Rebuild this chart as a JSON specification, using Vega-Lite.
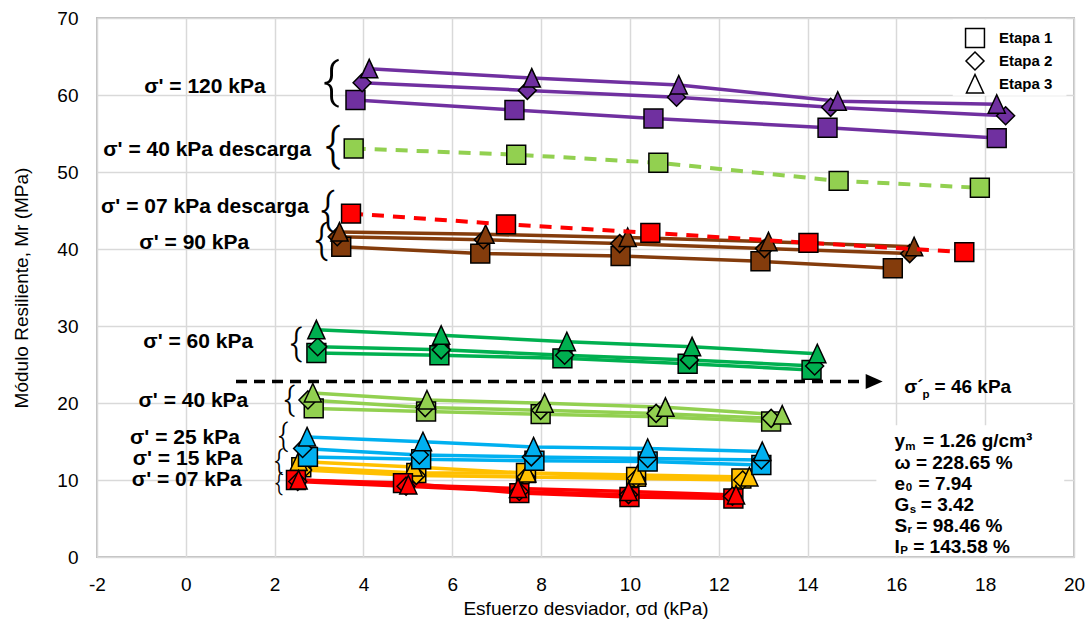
{
  "$schema": "https://vega.github.io/schema/vega-lite/v6.json",
  "width": 977,
  "height": 539,
  "autosize": {"type": "none"},
  "padding": {"left": 97, "top": 18, "right": 16, "bottom": 72},
  "background": "white",
  "config": {
    "view": {"stroke": "#BFBFBF", "strokeWidth": 2},
    "font": "Liberation Sans",
    "axis": {
      "gridColor": "#D9D9D9", "gridWidth": 1.5, "domain": false, "ticks": false,
      "labelFont": "Liberation Sans", "labelFontSize": 19, "labelColor": "#000000",
      "titleFont": "Liberation Sans", "titleFontSize": 19, "titleFontWeight": "normal", "titleColor": "#000000"
    }
  },
  "datasets": {
    "boxes": [
      {"x": 17.27, "x2": 19.83, "y": 59.9, "y2": 69.85},
      {"x": 15.55, "x2": 19.78, "y": 0.15, "y2": 17.1}
    ],
    "pts": [
      {"g": "120", "e": "Etapa 1", "x": 3.82, "y": 59.35}, {"g": "120", "e": "Etapa 1", "x": 7.40, "y": 58.05}, {"g": "120", "e": "Etapa 1", "x": 10.53, "y": 56.95}, {"g": "120", "e": "Etapa 1", "x": 14.45, "y": 55.75}, {"g": "120", "e": "Etapa 1", "x": 18.26, "y": 54.4},
      {"g": "120", "e": "Etapa 2", "x": 3.97, "y": 61.6}, {"g": "120", "e": "Etapa 2", "x": 7.69, "y": 60.6}, {"g": "120", "e": "Etapa 2", "x": 11.05, "y": 59.7}, {"g": "120", "e": "Etapa 2", "x": 14.52, "y": 58.4}, {"g": "120", "e": "Etapa 2", "x": 18.46, "y": 57.3},
      {"g": "120", "e": "Etapa 3", "x": 4.13, "y": 63.4}, {"g": "120", "e": "Etapa 3", "x": 7.79, "y": 62.2}, {"g": "120", "e": "Etapa 3", "x": 11.10, "y": 61.3}, {"g": "120", "e": "Etapa 3", "x": 14.68, "y": 59.2}, {"g": "120", "e": "Etapa 3", "x": 18.26, "y": 58.8},
      {"g": "90", "e": "Etapa 1", "x": 3.50, "y": 40.3}, {"g": "90", "e": "Etapa 1", "x": 6.63, "y": 39.4}, {"g": "90", "e": "Etapa 1", "x": 9.79, "y": 39.1}, {"g": "90", "e": "Etapa 1", "x": 12.94, "y": 38.4}, {"g": "90", "e": "Etapa 1", "x": 15.92, "y": 37.5},
      {"g": "90", "e": "Etapa 2", "x": 3.41, "y": 41.6}, {"g": "90", "e": "Etapa 2", "x": 6.70, "y": 41.2}, {"g": "90", "e": "Etapa 2", "x": 9.77, "y": 40.7}, {"g": "90", "e": "Etapa 2", "x": 13.03, "y": 40.05}, {"g": "90", "e": "Etapa 2", "x": 16.30, "y": 39.4},
      {"g": "90", "e": "Etapa 3", "x": 3.46, "y": 42.2}, {"g": "90", "e": "Etapa 3", "x": 6.75, "y": 41.9}, {"g": "90", "e": "Etapa 3", "x": 9.95, "y": 41.5}, {"g": "90", "e": "Etapa 3", "x": 13.12, "y": 40.95}, {"g": "90", "e": "Etapa 3", "x": 16.40, "y": 40.3},
      {"g": "60", "e": "Etapa 1", "x": 2.94, "y": 26.5}, {"g": "60", "e": "Etapa 1", "x": 5.71, "y": 26.2}, {"g": "60", "e": "Etapa 1", "x": 8.48, "y": 25.8}, {"g": "60", "e": "Etapa 1", "x": 11.30, "y": 25.1}, {"g": "60", "e": "Etapa 1", "x": 14.09, "y": 24.3},
      {"g": "60", "e": "Etapa 2", "x": 2.97, "y": 27.3}, {"g": "60", "e": "Etapa 2", "x": 5.75, "y": 26.9}, {"g": "60", "e": "Etapa 2", "x": 8.53, "y": 26.2}, {"g": "60", "e": "Etapa 2", "x": 11.34, "y": 25.6}, {"g": "60", "e": "Etapa 2", "x": 14.16, "y": 24.8},
      {"g": "60", "e": "Etapa 3", "x": 2.94, "y": 29.5}, {"g": "60", "e": "Etapa 3", "x": 5.75, "y": 28.8}, {"g": "60", "e": "Etapa 3", "x": 8.58, "y": 27.96}, {"g": "60", "e": "Etapa 3", "x": 11.40, "y": 27.3}, {"g": "60", "e": "Etapa 3", "x": 14.22, "y": 26.4},
      {"g": "40", "e": "Etapa 1", "x": 2.88, "y": 19.3}, {"g": "40", "e": "Etapa 1", "x": 5.41, "y": 18.9}, {"g": "40", "e": "Etapa 1", "x": 7.99, "y": 18.55}, {"g": "40", "e": "Etapa 1", "x": 10.63, "y": 18.2}, {"g": "40", "e": "Etapa 1", "x": 13.18, "y": 17.6},
      {"g": "40", "e": "Etapa 2", "x": 2.75, "y": 20.4}, {"g": "40", "e": "Etapa 2", "x": 5.39, "y": 19.4}, {"g": "40", "e": "Etapa 2", "x": 7.99, "y": 19.05}, {"g": "40", "e": "Etapa 2", "x": 10.59, "y": 18.65}, {"g": "40", "e": "Etapa 2", "x": 13.18, "y": 18.0},
      {"g": "40", "e": "Etapa 3", "x": 2.86, "y": 21.3}, {"g": "40", "e": "Etapa 3", "x": 5.43, "y": 20.4}, {"g": "40", "e": "Etapa 3", "x": 8.08, "y": 19.96}, {"g": "40", "e": "Etapa 3", "x": 10.80, "y": 19.44}, {"g": "40", "e": "Etapa 3", "x": 13.43, "y": 18.44},
      {"g": "15", "e": "Etapa 1", "x": 2.60, "y": 11.65}, {"g": "15", "e": "Etapa 1", "x": 5.19, "y": 10.9}, {"g": "15", "e": "Etapa 1", "x": 7.66, "y": 10.9}, {"g": "15", "e": "Etapa 1", "x": 10.14, "y": 10.4}, {"g": "15", "e": "Etapa 1", "x": 12.51, "y": 10.2},
      {"g": "15", "e": "Etapa 2", "x": 2.63, "y": 11.3}, {"g": "15", "e": "Etapa 2", "x": 5.19, "y": 10.6}, {"g": "15", "e": "Etapa 2", "x": 7.66, "y": 10.4}, {"g": "15", "e": "Etapa 2", "x": 10.14, "y": 10.2}, {"g": "15", "e": "Etapa 2", "x": 12.54, "y": 10.0},
      {"g": "15", "e": "Etapa 3", "x": 2.54, "y": 12.4}, {"g": "15", "e": "Etapa 3", "x": 5.13, "y": 11.7}, {"g": "15", "e": "Etapa 3", "x": 7.69, "y": 10.9}, {"g": "15", "e": "Etapa 3", "x": 10.17, "y": 10.65}, {"g": "15", "e": "Etapa 3", "x": 12.69, "y": 10.4},
      {"g": "25", "e": "Etapa 1", "x": 2.75, "y": 13.0}, {"g": "25", "e": "Etapa 1", "x": 5.30, "y": 12.7}, {"g": "25", "e": "Etapa 1", "x": 7.85, "y": 12.5}, {"g": "25", "e": "Etapa 1", "x": 10.40, "y": 12.4}, {"g": "25", "e": "Etapa 1", "x": 12.96, "y": 11.95},
      {"g": "25", "e": "Etapa 2", "x": 2.63, "y": 14.1}, {"g": "25", "e": "Etapa 2", "x": 5.26, "y": 13.25}, {"g": "25", "e": "Etapa 2", "x": 7.78, "y": 13.0}, {"g": "25", "e": "Etapa 2", "x": 10.40, "y": 12.8}, {"g": "25", "e": "Etapa 2", "x": 12.96, "y": 12.6},
      {"g": "25", "e": "Etapa 3", "x": 2.73, "y": 15.6}, {"g": "25", "e": "Etapa 3", "x": 5.34, "y": 14.97}, {"g": "25", "e": "Etapa 3", "x": 7.83, "y": 14.3}, {"g": "25", "e": "Etapa 3", "x": 10.40, "y": 14.1}, {"g": "25", "e": "Etapa 3", "x": 12.98, "y": 13.7},
      {"g": "07", "e": "Etapa 1", "x": 2.48, "y": 10.0}, {"g": "07", "e": "Etapa 1", "x": 4.89, "y": 9.6}, {"g": "07", "e": "Etapa 1", "x": 7.51, "y": 8.3}, {"g": "07", "e": "Etapa 1", "x": 9.99, "y": 7.8}, {"g": "07", "e": "Etapa 1", "x": 12.33, "y": 7.6},
      {"g": "07", "e": "Etapa 2", "x": 2.52, "y": 9.8}, {"g": "07", "e": "Etapa 2", "x": 4.96, "y": 9.2}, {"g": "07", "e": "Etapa 2", "x": 7.51, "y": 8.5}, {"g": "07", "e": "Etapa 2", "x": 9.97, "y": 8.1}, {"g": "07", "e": "Etapa 2", "x": 12.31, "y": 7.9},
      {"g": "07", "e": "Etapa 3", "x": 2.54, "y": 10.0}, {"g": "07", "e": "Etapa 3", "x": 5.01, "y": 9.35}, {"g": "07", "e": "Etapa 3", "x": 7.48, "y": 8.9}, {"g": "07", "e": "Etapa 3", "x": 9.97, "y": 8.5}, {"g": "07", "e": "Etapa 3", "x": 12.39, "y": 8.05}
    ],
    "desc": [
      {"g": "40d", "e": "Etapa 1", "x": 3.78, "y": 53.05}, {"g": "40d", "e": "Etapa 1", "x": 7.44, "y": 52.25}, {"g": "40d", "e": "Etapa 1", "x": 10.64, "y": 51.2}, {"g": "40d", "e": "Etapa 1", "x": 14.70, "y": 48.85}, {"g": "40d", "e": "Etapa 1", "x": 17.88, "y": 47.95},
      {"g": "07d", "e": "Etapa 1", "x": 3.72, "y": 44.6}, {"g": "07d", "e": "Etapa 1", "x": 7.21, "y": 43.2}, {"g": "07d", "e": "Etapa 1", "x": 10.46, "y": 42.1}, {"g": "07d", "e": "Etapa 1", "x": 14.02, "y": 40.8}, {"g": "07d", "e": "Etapa 1", "x": 17.53, "y": 39.6}
    ],
    "arrow": [{"x": 1.13, "y": 22.8}, {"x": 15.25, "y": 22.8}],
    "arrowhead": [{"x": 15.5, "y": 22.8}],
    "labels": [
      {"t": "σ' = 120 kPa", "x": 0.43, "y": 61.1},
      {"t": "σ' = 40 kPa descarga", "x": 0.48, "y": 52.9},
      {"t": "σ' = 07 kPa descarga", "x": 0.43, "y": 45.4},
      {"t": "σ' = 90 kPa", "x": 0.19, "y": 40.8},
      {"t": "σ' = 60 kPa", "x": 0.28, "y": 27.9},
      {"t": "σ' = 40 kPa", "x": 0.17, "y": 20.3},
      {"t": "σ' = 25 kPa", "x": -0.02, "y": 15.5},
      {"t": "σ' = 15 kPa", "x": 0.04, "y": 12.7},
      {"t": "σ' = 07 kPa", "x": 0.02, "y": 10.0}
    ],
    "braces": [
      {"k": "120", "x": 3.27, "y": 61.6},
      {"k": "40d", "x": 3.30, "y": 53.2},
      {"k": "07d", "x": 3.19, "y": 45.0},
      {"k": "90", "x": 3.05, "y": 41.1},
      {"k": "60", "x": 2.48, "y": 27.7},
      {"k": "40", "x": 2.33, "y": 20.3},
      {"k": "25", "x": 2.19, "y": 15.6},
      {"k": "15", "x": 2.09, "y": 12.3},
      {"k": "07", "x": 2.09, "y": 9.5}
    ],
    "big": [
      {"t": "σ´", "x": 16.18, "y": 22.1},
      {"t": "=  46 kPa", "x": 16.86, "y": 22.1},
      {"t": "y", "x": 15.96, "y": 15.06},
      {"t": "= 1.26 g/cm³", "x": 16.6, "y": 15.06},
      {"t": "ω = 228.65 %", "x": 15.96, "y": 12.27},
      {"t": "e", "x": 15.96, "y": 9.48},
      {"t": "= 7.94", "x": 16.5, "y": 9.48},
      {"t": "G", "x": 15.96, "y": 6.71},
      {"t": "= 3.42", "x": 16.55, "y": 6.71},
      {"t": "S", "x": 15.96, "y": 4.03},
      {"t": "= 98.46 %", "x": 16.45, "y": 4.03},
      {"t": "I", "x": 15.96, "y": 1.34},
      {"t": "= 143.58 %", "x": 16.38, "y": 1.34}
    ],
    "sub": [
      {"t": "p", "x": 16.59, "y": 21.0},
      {"t": "m", "x": 16.2, "y": 14.25},
      {"t": "0", "x": 16.21, "y": 8.9},
      {"t": "s", "x": 16.3, "y": 6.05},
      {"t": "r", "x": 16.25, "y": 3.45},
      {"t": "P", "x": 16.09, "y": 0.72}
    ]
  },
  "encoding": {
    "x": {
      "field": "x", "type": "quantitative",
      "scale": {"domain": [-2, 20], "nice": false, "zero": false},
      "axis": {"values": [-2, 0, 2, 4, 6, 8, 10, 12, 14, 16, 18, 20], "labelExpr": "'' + datum.value", "title": "Esfuerzo desviador, σd (kPa)", "labelPadding": 18, "titlePadding": 5, "labelFlush": false}
    },
    "y": {
      "field": "y", "type": "quantitative",
      "scale": {"domain": [0, 70], "nice": false, "zero": false},
      "axis": {"values": [0, 10, 20, 30, 40, 50, 60, 70], "title": "Módulo Resiliente, Mr (MPa)", "labelPadding": 19, "titlePadding": 25}
    }
  },
  "layer": [
    {
      "data": {"name": "boxes"},
      "mark": {"type": "rect", "fill": "white", "stroke": null},
      "encoding": {"x2": {"field": "x2"}, "y2": {"field": "y2"}}
    },
    {
      "data": {"name": "pts"},
      "mark": {"type": "line"},
      "encoding": {
        "color": {"field": "g", "type": "nominal", "legend": null, "scale": {"domain": ["120", "40d", "07d", "90", "60", "40", "25", "15", "07"], "range": ["#7030A0", "#92D050", "#FF0000", "#843C0C", "#00B050", "#92D050", "#00B0F0", "#FFC000", "#FF0000"]}},
        "strokeWidth": {"field": "g", "type": "ordinal", "legend": null, "scale": {"domain": ["120", "90", "60", "40", "25", "15", "07"], "range": [3.5, 3.5, 3.5, 4.5, 4, 5, 5]}},
        "detail": {"field": "e"}
      }
    },
    {
      "data": {"name": "pts"},
      "mark": {"type": "point", "filled": true, "stroke": "black", "strokeWidth": 1.5, "opacity": 1, "size": 324},
      "encoding": {
        "color": {"field": "g", "type": "nominal", "legend": null},
        "shape": {
          "field": "e", "type": "nominal",
          "scale": {"domain": ["Etapa 1", "Etapa 2", "Etapa 3"], "range": ["M-1.05,-1.05L1.05,-1.05L1.05,1.05L-1.05,1.05Z", "M0,-1L1,0L0,1L-1,0Z", "M0,-1.05L0.95,1L-0.95,1Z"]},
          "legend": {
            "orient": "none", "legendX": 868, "legendY": 10, "title": null, "padding": 0,
            "labelFont": "Liberation Sans", "labelFontSize": 15, "labelFontWeight": "bold", "labelColor": "#000000",
            "labelOffset": 14, "rowPadding": -2, "symbolSize": 324,
            "symbolFillColor": "white", "symbolStrokeColor": "black", "symbolStrokeWidth": 1.5, "symbolOpacity": 1,
            "encode": {"symbols": {"update": {"fill": {"value": "white"}, "stroke": {"value": "black"}, "strokeWidth": {"value": 1.5}, "opacity": {"value": 1}}}}
          }
        }
      }
    },
    {
      "data": {"name": "desc"},
      "mark": {"type": "line", "strokeDash": [12, 9], "strokeWidth": 4},
      "encoding": {"color": {"field": "g", "type": "nominal", "legend": null}}
    },
    {
      "data": {"name": "desc"},
      "mark": {"type": "point", "filled": true, "stroke": "black", "strokeWidth": 1.5, "opacity": 1, "size": 324},
      "encoding": {
        "color": {"field": "g", "type": "nominal", "legend": null},
        "shape": {"field": "e", "type": "nominal"}
      }
    },
    {
      "data": {"name": "arrow"},
      "mark": {"type": "line", "color": "black", "strokeWidth": 3.5, "strokeDash": [11, 7]},
      "encoding": {}
    },
    {
      "data": {"name": "arrowhead"},
      "mark": {"type": "point", "filled": true, "color": "black", "opacity": 1, "size": 289, "shape": "M-1,-0.88L1,0L-1,0.88Z"},
      "encoding": {}
    },
    {
      "data": {"name": "labels"},
      "mark": {"type": "text", "font": "Liberation Sans", "fontSize": 21, "fontWeight": "bold", "align": "center", "baseline": "middle", "color": "black"},
      "encoding": {"text": {"field": "t"}}
    },
    {
      "data": {"name": "braces"},
      "mark": {"type": "text", "font": "Roboto", "fontWeight": 300, "align": "center", "baseline": "middle", "color": "black", "text": "{"},
      "encoding": {
        "size": {"field": "k", "type": "ordinal", "legend": null, "scale": {"domain": ["120", "40d", "07d", "90", "60", "40", "25", "15", "07"], "range": [50, 24, 22, 33, 40, 24, 25, 15, 20]}}
      }
    },
    {
      "data": {"name": "big"},
      "mark": {"type": "text", "font": "Liberation Sans", "fontSize": 19, "fontWeight": "bold", "align": "left", "baseline": "middle", "color": "black"},
      "encoding": {"text": {"field": "t"}}
    },
    {
      "data": {"name": "sub"},
      "mark": {"type": "text", "font": "Liberation Sans", "fontSize": 11.5, "fontWeight": "bold", "align": "left", "baseline": "middle", "color": "black"},
      "encoding": {"text": {"field": "t"}}
    }
  ]
}
